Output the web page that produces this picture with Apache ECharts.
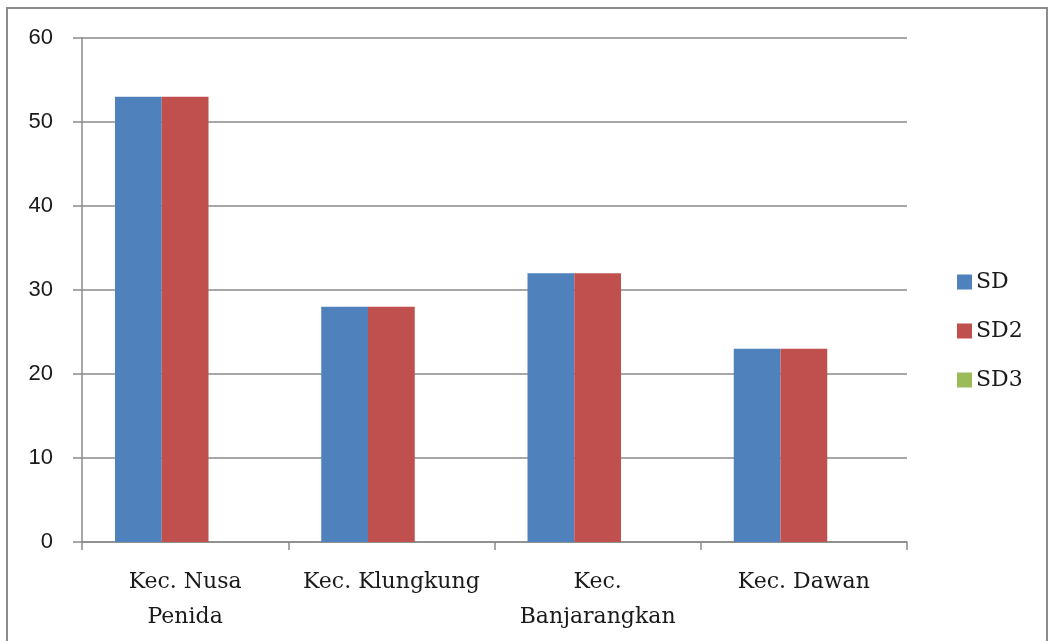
<!DOCTYPE html>
<html>
<head>
<meta charset="utf-8">
<script src="https://cdn.jsdelivr.net/npm/echarts@6/dist/echarts.min.js"></script>
<style>
  html, body { margin: 0; padding: 0; background: #fff; }
  #chart { width: 1049px; height: 641px; }
</style>
</head>
<body>
<div id="chart"></div>
<script>
const categories = ['Kec. Nusa\nPenida', 'Kec. Klungkung', 'Kec.\nBanjarangkan', 'Kec. Dawan'];
const sdValues = [53, 28, 32, 23];
const sd2Values = [53, 28, 32, 23];
const sd3Values = [0, 0, 0, 0];
const yTicks = { min: 0, max: 60, interval: 10 };

const chart = echarts.init(document.getElementById('chart'));

const serif = "'DejaVu Serif', serif";
const gray = '#8a8a8a';

chart.setOption({
  backgroundColor: '#fff',
  animation: false,
  graphic: [{
    type: 'rect',
    shape: { x: 7, y: 8, width: 1040, height: 640 },
    style: { fill: 'none', stroke: '#8c8c8c', lineWidth: 2 }
  }],
  grid: { left: 82, right: 142, top: 38, bottom: 99 },
  legend: {
    orient: 'vertical',
    left: 952,
    top: 266,
    itemWidth: 15,
    itemHeight: 15,
    itemGap: 27,
    icon: 'rect',
    textStyle: { fontFamily: serif, fontSize: 22, color: '#1a1a1a', padding: [0, 0, 0, -1] },
    data: ['SD', 'SD2', 'SD3']
  },
  xAxis: {
    type: 'category',
    data: categories,
    axisLine: { lineStyle: { color: gray, width: 1.5 } },
    axisTick: { show: true, length: 8, lineStyle: { color: gray, width: 1.5 } },
    axisLabel: {
      fontFamily: serif, fontSize: 22, color: '#1a1a1a',
      lineHeight: 35, margin: 23, interval: 0
    }
  },
  yAxis: {
    type: 'value',
    min: yTicks.min,
    max: yTicks.max,
    interval: yTicks.interval,
    axisLine: { show: true, lineStyle: { color: gray, width: 1.5 } },
    axisTick: { show: true, length: 9, lineStyle: { color: gray, width: 1.5 } },
    axisLabel: { fontFamily: "'Liberation Sans', sans-serif", fontSize: 22, color: '#1a1a1a', margin: 29 },
    splitLine: { lineStyle: { color: gray, width: 1.5 } }
  },
  series: [
    { name: 'SD', type: 'bar', data: sdValues, barGap: '0%', barCategoryGap: '32%', itemStyle: { color: '#4f81bd' } },
    { name: 'SD2', type: 'bar', data: sd2Values, barGap: '0%', barCategoryGap: '32%', itemStyle: { color: '#c0504d' } },
    { name: 'SD3', type: 'bar', data: sd3Values, barGap: '0%', barCategoryGap: '32%', itemStyle: { color: '#9bbb59' } }
  ]
});
</script>
</body>
</html>
